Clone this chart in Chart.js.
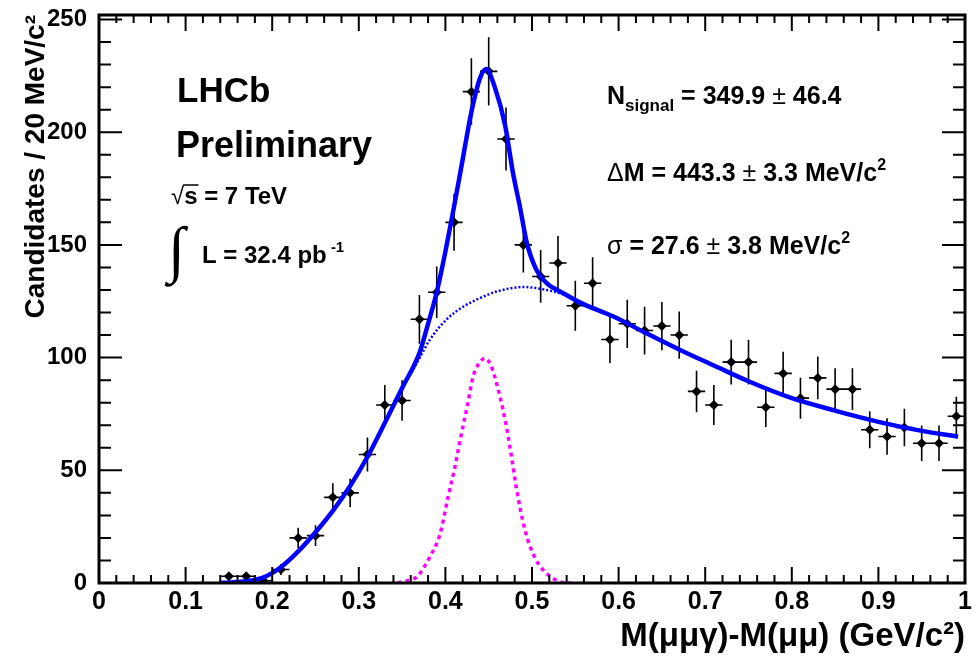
<!DOCTYPE html>
<html lang="en">
<head>
<meta charset="utf-8">
<title>M(μμγ)-M(μμ)</title>
<script src="https://cdn.jsdelivr.net/npm/chart.js@4.4.0/dist/chart.umd.min.js"></script>
<style>
html,body{margin:0;padding:0;background:#fff}
canvas{display:block}
</style>
</head>
<body>
<canvas id="chart" width="976" height="663"></canvas>
<script>
/* data points: bin centre (GeV/c2), candidates per 20 MeV, error */
const binX   = [0.15,0.17,0.19,0.21,0.23,0.25,0.27,0.29,0.31,0.33,0.35,0.37,0.39,0.41,0.43,0.45,0.47,0.49,0.51,0.53,0.55,
                0.57,0.59,0.61,0.63,0.65,0.67,0.69,0.71,0.73,0.75,0.77,0.79,0.81,0.83,0.85,0.87,0.89,0.91,0.93,0.95,0.97,0.99];
const counts = [3,3,1,6,20,21,38,40,57,79,81,117,129,160,218,227,197,150,136,142,123,
                133,108,115,112,114,110,85,79,98,98,78,93,82,91,86,86,68,65,69,62,62,74];
const errs   = [1.7,1.7,1.0,2.4,4.5,4.6,6.2,6.3,7.5,8.9,9.0,10.8,11.4,12.6,14.8,15.1,14.0,12.2,11.7,11.9,11.1,
                11.5,10.4,10.7,10.6,10.7,10.5,9.2,8.9,9.9,9.9,8.8,9.6,9.1,9.5,9.3,9.3,8.2,8.1,8.3,7.9,7.9,8.6];
const binHalf = 0.01;

/* total fit (solid blue) */
const fitX = [0.14,0.15,0.17,0.19,0.21,0.23,0.25,0.27,0.29,0.31,0.33,0.35,0.37,0.38,0.39,0.40,0.41,0.42,0.43,0.44,0.447,
              0.457,0.469,0.478,0.486,0.494,0.505,0.517,0.536,0.555,0.594,0.632,0.671,0.71,0.75,0.80,0.85,0.90,0.95,0.992];
const fitY = [0,0.2,0.8,2.5,7,14,22.5,32,43,56,71,86.5,102,115,129,147,167,188,209,224,228,
              220,203,182,167,151,139,133,128.6,124.5,118.2,110.8,103.4,96.5,89.5,82,76.5,71.5,67.5,64.9];

/* background component (dotted blue) */
const bkgX = [0.14,0.15,0.17,0.19,0.21,0.23,0.25,0.27,0.29,0.31,0.33,0.35,0.371,0.382,0.401,0.421,0.44,0.459,0.49,0.517,0.536,
              0.555,0.594,0.632,0.671,0.71,0.75,0.80,0.85,0.90,0.95,0.992];
const bkgY = [0,0.2,0.8,2.5,7,14,22.5,32,43,56,71,86,100.4,107.9,116.8,122.7,126.4,129.3,131.3,130,128,
              124.5,118.2,110.8,103.4,96.5,89.5,82,76.5,71.5,67.5,64.9];

/* signal component (dashed magenta) */
const sigX = [0.345,0.36,0.367,0.382,0.394,0.403,0.411,0.417,0.425,0.432,0.438,0.446,0.452,0.457,0.469,0.477,0.482,0.492,0.503,0.517,0.534,0.545];
const sigY = [0,1.5,2.7,11.5,22,38,51.5,63.4,78,91.5,97,99.7,97,91.5,72.3,54.5,42,23.4,11.5,4.2,0.4,0];

/* axis ticks */
const xTickVals = [0,0.1,0.2,0.3,0.4,0.5,0.6,0.7,0.8,0.9,1];
const xTickText = ['0','0.1','0.2','0.3','0.4','0.5','0.6','0.7','0.8','0.9','1'];
const yTickVals = [0,50,100,150,200,250];

const FONT = 'Liberation Sans, Arial, Helvetica, sans-serif';
const pts = (xs, ys) => xs.map((x, i) => ({x, y: ys[i]}));

/* error bars under the markers */
const errorBars = {
  id: 'errorBars',
  beforeDatasetsDraw(chart) {
    const {ctx, chartArea: a, scales: {x, y}} = chart;
    ctx.save();
    ctx.beginPath(); ctx.rect(a.left, a.top, a.right - a.left, a.bottom - a.top); ctx.clip();
    ctx.strokeStyle = '#000'; ctx.lineWidth = 1.6;
    ctx.beginPath();
    binX.forEach((bx, i) => {
      const px = x.getPixelForValue(bx), py = y.getPixelForValue(counts[i]);
      ctx.moveTo(px, y.getPixelForValue(counts[i] - errs[i]));
      ctx.lineTo(px, y.getPixelForValue(counts[i] + errs[i]));
      ctx.moveTo(x.getPixelForValue(bx - binHalf), py);
      ctx.lineTo(x.getPixelForValue(bx + binHalf), py);
    });
    ctx.stroke();
    ctx.restore();
  }
};

/* ROOT-style frame with inward ticks on all four sides */
const frame = {
  id: 'frame',
  afterDatasetsDraw(chart) {
    const {ctx, chartArea: a, scales: {x, y}} = chart;
    ctx.save();
    ctx.strokeStyle = '#000';
    ctx.lineWidth = 2;
    ctx.beginPath();
    const sub = (ticks, n) => {
      const out = [];
      for (let i = 0; i < ticks.length - 1; i++) {
        const v0 = ticks[i].value, v1 = ticks[i + 1].value;
        for (let k = 1; k < n; k++) out.push(v0 + (v1 - v0) * k / n);
      }
      return out;
    };
    x.ticks.forEach(t => {
      const px = x.getPixelForValue(t.value);
      ctx.moveTo(px, a.bottom); ctx.lineTo(px, a.bottom - 16);
      ctx.moveTo(px, a.top); ctx.lineTo(px, a.top + 16);
    });
    sub(x.ticks, 5).forEach(v => {
      const px = x.getPixelForValue(v);
      ctx.moveTo(px, a.bottom); ctx.lineTo(px, a.bottom - 8);
      ctx.moveTo(px, a.top); ctx.lineTo(px, a.top + 8);
    });
    y.ticks.forEach(t => {
      const py = y.getPixelForValue(t.value);
      ctx.moveTo(a.left, py); ctx.lineTo(a.left + 23, py);
      ctx.moveTo(a.right, py); ctx.lineTo(a.right - 23, py);
    });
    sub(y.ticks, 5).forEach(v => {
      const py = y.getPixelForValue(v);
      ctx.moveTo(a.left, py); ctx.lineTo(a.left + 12, py);
      ctx.moveTo(a.right, py); ctx.lineTo(a.right - 12, py);
    });
    ctx.stroke();
    ctx.lineWidth = 3;
    ctx.strokeRect(a.left, a.top, a.right - a.left, a.bottom - a.top);
    ctx.restore();
  }
};

/* draw a run of text pieces: [text, size, dy, weight, family] */
function rich(ctx, x, y, parts) {
  parts.forEach(([t, size, dy, w, fam]) => {
    ctx.font = `${w || 'bold'} ${size}px ${fam || FONT}`;
    ctx.fillText(t, x, y + (dy || 0));
    x += ctx.measureText(t).width;
  });
  return x;
}

const labels = {
  id: 'labels',
  afterDraw(chart) {
    const ctx = chart.ctx;
    ctx.save();
    ctx.fillStyle = '#000';
    ctx.strokeStyle = '#000';
    ctx.textAlign = 'left';
    ctx.textBaseline = 'alphabetic';

    ctx.font = `bold 35px ${FONT}`;
    ctx.fillText('LHCb', 177, 102);
    ctx.font = `bold 36px ${FONT}`;
    ctx.fillText('Preliminary', 176, 157);

    /* sqrt(s) = 7 TeV */
    let x = rich(ctx, 171, 204, [['√', 24, 0, 'normal']]);
    ctx.font = `bold 24px ${FONT}`;
    const sw = ctx.measureText('s').width;
    ctx.lineWidth = 1.5;
    ctx.beginPath(); ctx.moveTo(x - 1, 185); ctx.lineTo(x + sw + 1, 185); ctx.stroke();
    rich(ctx, x, 204, [['s = 7 TeV', 24]]);

    /* integrated luminosity */
    rich(ctx, 168, 270, [['∫', 62, 0, 'normal', 'Liberation Serif, serif']]);
    rich(ctx, 202, 263, [['L = 32.4 pb', 24], [' -1', 15, -11]]);

    /* fit results */
    rich(ctx, 607, 104, [['N', 25], ['signal', 17, 7], [' = 349.9 ', 25], ['±', 25, 0, 'normal'], [' 46.4', 25]]);
    rich(ctx, 607, 181, [['Δ', 25, 0, 'normal'], ['M = 443.3 ', 25], ['±', 25, 0, 'normal'], [' 3.3 MeV/c', 25], ['2', 16, -11]]);
    rich(ctx, 607, 254, [['σ', 25, 0, 'normal'], [' = 27.6 ', 25], ['±', 25, 0, 'normal'], [' 3.8 MeV/c', 25], ['2', 16, -11]]);
    ctx.restore();
  }
};

new Chart(document.getElementById('chart').getContext('2d'), {
  type: 'scatter',
  data: {
    datasets: [
      { label: 'fit', data: pts(fitX, fitY), showLine: true, borderColor: '#0000ff', borderWidth: 4.5,
        pointRadius: 0, cubicInterpolationMode: 'monotone', order: 0 },
      { label: 'signal', data: pts(sigX, sigY), showLine: true, borderColor: '#ff00ff', borderWidth: 3.5,
        borderDash: [4, 4], pointRadius: 0, cubicInterpolationMode: 'monotone', order: 1 },
      { label: 'background', data: pts(bkgX, bkgY), showLine: true, borderColor: '#0000ff', borderWidth: 2.5,
        borderDash: [2, 2], pointRadius: 0, cubicInterpolationMode: 'monotone', order: 2 },
      { label: 'data', data: pts(binX, counts), pointStyle: 'rectRot', pointRadius: 5,
        backgroundColor: '#000', borderColor: '#000', borderWidth: 0, order: 3 }
    ]
  },
  options: {
    responsive: false,
    animation: false,
    layout: { padding: { left: 0, right: 11, top: 15, bottom: 0 } },
    plugins: { legend: { display: false }, tooltip: { enabled: false } },
    scales: {
      x: {
        type: 'linear', min: 0, max: 1,
        grid: { display: false, drawTicks: false }, border: { display: false },
        afterBuildTicks(s) { s.ticks = xTickVals.map(v => ({value: v})); },
        ticks: { padding: 4, color: '#000', maxRotation: 0, autoSkip: false,
                 font: { family: FONT, weight: 'bold', size: 25 },
                 callback: (v, i) => xTickText[i] },
        title: { display: true, text: 'M(μμγ)-M(μμ) (GeV/c²)', align: 'end', color: '#000',
                 font: { family: FONT, weight: 'bold', size: 33 }, padding: { top: 0, bottom: 6 } },
        afterFit(s) { s.height = 80; s.paddingLeft = 0; s.paddingRight = 0; }
      },
      y: {
        type: 'linear', min: 0, max: 252,
        grid: { display: false, drawTicks: false }, border: { display: false },
        afterBuildTicks(s) { s.ticks = yTickVals.map(v => ({value: v})); },
        ticks: { padding: 12, color: '#000', autoSkip: false,
                 font: { family: FONT, weight: 'bold', size: 24 } },
        title: { display: true, text: 'Candidates / 20 MeV/c²', align: 'end', color: '#000',
                 font: { family: FONT, weight: 'bold', size: 28 }, padding: { top: 19, bottom: 0 } },
        afterFit(s) { s.width = 99; s.paddingTop = 0; s.paddingBottom = 0; }
      }
    }
  },
  plugins: [errorBars, frame, labels]
});
</script>
</body>
</html>
